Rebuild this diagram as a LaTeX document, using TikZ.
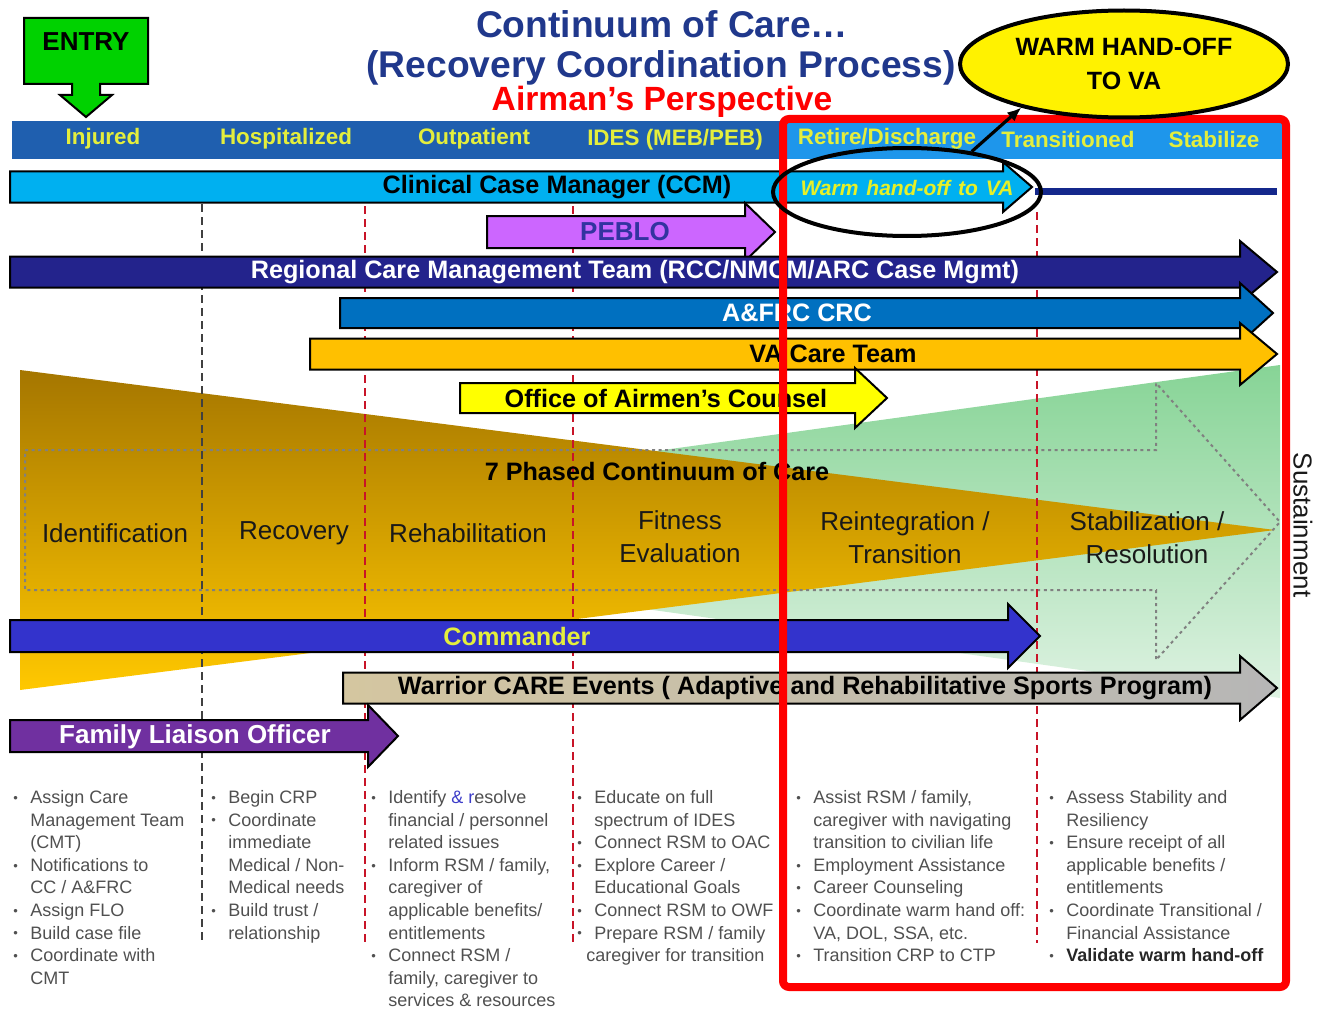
\documentclass[tikz,border=0pt]{standalone}
\usepackage{fontspec}
\setmainfont{Liberation Sans}
\usetikzlibrary{arrows.meta,shapes.geometric}
\definecolor{titleblue}{RGB}{32,56,140}
\definecolor{hdrdark}{RGB}{31,95,175}
\definecolor{hdrlight}{RGB}{30,150,235}
\definecolor{hdrtext}{RGB}{228,238,60}
\definecolor{ccmblue}{RGB}{0,176,240}
\definecolor{peblofill}{RGB}{204,102,255}
\definecolor{peblotext}{RGB}{51,51,160}
\definecolor{rcmtfill}{RGB}{35,35,140}
\definecolor{afrcfill}{RGB}{0,112,192}
\definecolor{vagold}{RGB}{255,192,0}
\definecolor{oacyellow}{RGB}{255,255,0}
\definecolor{cmdblue}{RGB}{51,51,204}
\definecolor{flopurple}{RGB}{112,48,160}
\definecolor{wtan}{RGB}{212,198,160}
\definecolor{wgray}{RGB}{182,182,182}
\definecolor{golddark}{RGB}{165,118,0}
\definecolor{goldlight}{RGB}{255,200,0}
\definecolor{greentop}{RGB}{135,212,150}
\definecolor{greenbot}{RGB}{222,242,226}
\definecolor{navyline}{RGB}{20,40,140}
\definecolor{dashred}{RGB}{200,20,40}
\definecolor{bodygray}{RGB}{80,80,80}
\definecolor{entrygreen}{RGB}{0,210,0}
\definecolor{warmyellow}{RGB}{230,240,40}
\definecolor{amplink}{RGB}{60,60,200}
\newcommand\HArrow[7]{\path[#1] (#2,#5-#6) -- (#3,#5-#6) -- (#3,#5-#7) -- (#4,#5) -- (#3,#5+#7) -- (#3,#5+#6) -- (#2,#5+#6) -- cycle;}
\newcommand\bu{\makebox[8.5pt][l]{\raisebox{0.6pt}{\fontsize{6.5}{6.5}\selectfont\textbullet}}}
\newcommand\cu{\hspace*{8.5pt}}
\begin{document}
\begin{tikzpicture}[x=0.5pt,y=-0.5pt,
  lbl/.style={font=\fontsize{12.6}{14}\selectfont\bfseries, inner sep=0pt},
  hdr/.style={font=\fontsize{11.2}{13}\selectfont\bfseries, text=hdrtext, inner sep=0pt},
  phase/.style={font=\fontsize{13}{16.5}\selectfont, text=black!90, inner sep=0pt, align=center},
  bullets/.style={font=\fontsize{9}{11.3}\selectfont, text=bodygray, inner sep=0pt, align=left, anchor=north west},
  barline/.style={draw=black, line width=1pt},
  dashv/.style={dash pattern=on 4pt off 2.5pt, line width=1.2pt},
  ttl/.style={font=\fontsize{18.6}{22}\selectfont\bfseries, text=titleblue, inner sep=0pt}]
\useasboundingbox (0,0) rectangle (1323,1011);

% header band
\fill[hdrdark] (12,121) rectangle (783,159);
\fill[hdrlight] (783,121) rectangle (1283,159);
\node[hdr] (hInjured) at (103,139) {Injured};
\node[hdr] (hHosp) at (286,139) {Hospitalized};
\node[hdr] (hOut) at (474,139) {Outpatient};
\node[hdr] (hIdes) at (675,140) {IDES (MEB/PEB)};
\node[hdr] (hRetire) at (887,139) {Retire/Discharge};
\node[hdr] (hTrans) at (1068,139) {Transitioned};
\node[hdr] (hStab) at (1214,139) {Stabilize};

% triangles
\shade[top color=greentop,bottom color=greenbot] (83,530) -- (1280,365) -- (1280,698) -- cycle;
\shade[top color=golddark,bottom color=goldlight] (20,370) -- (1275,530) -- (20,690) -- cycle;

% dotted arrow outline
\draw[gray, line width=1pt, dash pattern=on 1.5pt off 1.8pt] (25,450) -- (1156,450) -- (1156,383) -- (1280,522) -- (1156,660) -- (1156,590) -- (25,590) -- cycle;

% vertical dashed separators
\draw[dashv, black!75] (202,204) -- (202,943);
\draw[dashv, dashred] (365,206) -- (365,943);
\draw[dashv, dashred] (573,206) -- (573,943);
\draw[dashv, dashred] (1037,212) -- (1037,943);

% bars
\HArrow{barline, fill=ccmblue}{10}{1003}{1032}{187}{15.5}{25}
\node[lbl] (ccm) at (557,187) {Clinical Case Manager (CCM)};
\node[font=\fontsize{10.5}{12}\selectfont\bfseries\itshape, text=warmyellow, inner sep=0pt] (warmtxt) at (907,188) {Warm\hspace{4pt}hand-off\hspace{4pt}to\hspace{4pt}VA};

\HArrow{barline, fill=peblofill}{487}{745}{775}{232}{16}{29}
\node[lbl, text=peblotext, font=\fontsize{13}{14}\selectfont\bfseries] (peblo) at (625,232) {PEBLO};

\HArrow{barline, fill=rcmtfill}{10}{1240}{1277}{272}{15.5}{31}
\node[lbl, text=white] (rcmt) at (635,272) {Regional Care Management Team (RCC/NMCM/ARC Case Mgmt)};

\HArrow{barline, fill=afrcfill}{340}{1240}{1273}{313}{15}{30}
\node[lbl, text=white] (afrc) at (797,313) {A\&FRC CRC};

\HArrow{barline, fill=vagold}{310}{1240}{1277}{354}{15.5}{31}
\node[lbl] (vateam) at (833,354) {VA Care Team};

\HArrow{barline, fill=oacyellow}{460}{855}{887}{398}{15}{30}
\node[lbl] (oac) at (666,398) {Office of Airmen's Counsel};

% phases
\node[lbl] (seven) at (657,471) {7 Phased Continuum of Care};
\node[phase] (pIdent) at (115,533) {Identification};
\node[phase] (pRecov) at (294,533) {Recovery};
\node[phase] (pRehab) at (468,533) {Rehabilitation};
\node[phase] (pFit) at (680,537) {Fitness\\Evaluation};
\node[phase] (pReint) at (905,538) {Reintegration /\\Transition};
\node[phase] (pStab) at (1147,538) {Stabilization /\\Resolution};
\node[phase, rotate=-90] (sustain) at (1303,525) {Sustainment};

\HArrow{barline, fill=cmdblue}{10}{1008}{1040}{636}{16}{32}
\node[lbl, text=hdrtext] (cmd) at (517,636) {Commander};

\HArrow{barline, left color=wtan, right color=wgray}{343}{1240}{1277}{688}{15.5}{32}
\node[lbl] (warrior) at (805,688) {Warrior CARE Events ( Adaptive and Rehabilitative Sports Program)};

\HArrow{barline, fill=flopurple}{10}{368}{398}{736}{16}{31}
\node[lbl, text=white, font=\fontsize{13}{14}\selectfont\bfseries] (flo) at (195,737) {Family Liaison Officer};

% navy continuation line
\coordinate (navyA) at (1035,191);
\coordinate (navyB) at (1277,191);
\draw[navyline, line width=3.5pt] (navyA) -- (navyB);

% red box
\draw[red, line width=4pt, rounded corners=3pt] (783,119) rectangle (1286,987);

% ellipses
\node[ellipse, draw=black, line width=2pt, minimum width=134pt, minimum height=44pt, inner sep=0pt] (warmsmall) at (907,192) {};
\node[ellipse, draw=black, line width=2pt, fill=yellow, minimum width=164pt, minimum height=53.5pt, inner sep=0pt, align=center, font=\fontsize{12.5}{17}\selectfont\bfseries] (warmbig) at (1124,64) {WARM HAND-OFF\\TO VA};
\draw[line width=1.6pt, -{Latex[length=7pt,width=6pt]}] (warmsmall.32) -- (warmbig.203);

% title
\node[ttl] (t1) at (662,24) {Continuum of Care\dots};
\node[ttl] (t2) at (661,68) {(Recovery Coordination Process)};
\node[font=\fontsize{16.8}{20}\selectfont\bfseries, text=red, inner sep=0pt] (t3) at (662,102) {Airman's Perspective};

% entry
\path[draw=black, line width=1pt, fill=entrygreen] (24,18) -- (148,18) -- (148,84) -- (100,84) -- (100,95) -- (112,95) -- (86,117) -- (60,95) -- (72,95) -- (72,84) -- (24,84) -- cycle;
\node[font=\fontsize{13}{14}\selectfont\bfseries, inner sep=0pt] (entry) at (86,42) {ENTRY};

% bullet columns
\node[bullets] (c1) at (13,790) {\bu Assign Care\\
\cu Management Team\\
\cu (CMT)\\
\bu Notifications to\\
\cu CC / A\&FRC\\
\bu Assign FLO\\
\bu Build case file\\
\bu Coordinate with\\
\cu CMT};
\node[bullets] (c2) at (211,790) {\bu Begin CRP\\
\bu Coordinate\\
\cu immediate\\
\cu Medical / Non-\\
\cu Medical needs\\
\bu Build trust /\\
\cu relationship};
\node[bullets] (c3) at (371,790) {\bu Identify {\color{amplink}\& r}esolve\\
\cu financial / personnel\\
\cu related issues\\
\bu Inform RSM / family,\\
\cu caregiver of\\
\cu applicable benefits/\\
\cu entitlements\\
\bu Connect RSM /\\
\cu family, caregiver to\\
\cu services \& resources};
\node[bullets] (c4) at (577,790) {\bu Educate on full\\
\cu spectrum of IDES\\
\bu Connect RSM to OAC\\
\bu Explore Career /\\
\cu Educational Goals\\
\bu Connect RSM to OWF\\
\bu Prepare RSM / family\\
\hspace*{4.5pt}caregiver for transition};
\node[bullets] (c5) at (796,790) {\bu Assist RSM / family,\\
\cu caregiver with navigating\\
\cu transition to civilian life\\
\bu Employment Assistance\\
\bu Career Counseling\\
\bu Coordinate warm hand off:\\
\cu VA, DOL, SSA, etc.\\
\bu Transition CRP to CTP};
\node[bullets] (c6) at (1049,790) {\bu Assess Stability and\\
\cu Resiliency\\
\bu Ensure receipt of all\\
\cu applicable benefits /\\
\cu entitlements\\
\bu Coordinate Transitional /\\
\cu Financial Assistance\\
\bu {\color{black!85}\bfseries Validate warm hand-off}};
\end{tikzpicture}
\end{document}
